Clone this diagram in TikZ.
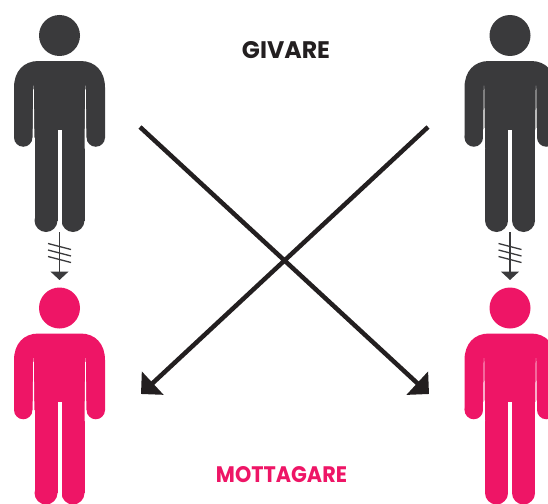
\documentclass[tikz,border=0pt]{standalone}
\usepackage{fontspec}
\newfontfamily\popfont{Poppins}
\usetikzlibrary{arrows.meta}
\definecolor{givgrey}{HTML}{3A3A3C}
\definecolor{motpink}{HTML}{EE1566}
\definecolor{arrowblack}{HTML}{231F20}
\tikzset{
  bigarrow/.style={draw=arrowblack, line width=4.5pt, -{Triangle[length=16pt,width=31pt]}},
  smallarrow/.style={draw=givgrey, line width=1.4pt, -{Triangle[length=8.5pt,width=18pt]}},
  hashmark/.style={draw=givgrey, line width=1.3pt},
  label/.style={font=\popfont\bfseries, inner sep=0pt},
}
% person: name, cx, cy (head centre), colour
\newcommand\drawperson[4]{%
  \begin{scope}[shift={(#2,#3)}]
    \fill[#4] (0,0) circle (20.5);
    \fill[#4] (-45.5,102) -- (-45.5,52) .. controls (-45.5,36) and (-36,25.5) .. (-21,25.5)
      -- (21,25.5) .. controls (36,25.5) and (45.5,36) .. (45.5,52) -- (45.5,102) -- cycle;
    \fill[#4] (-36.25,102) circle (9.25);
    \fill[#4] (36.25,102) circle (9.25);
    \fill[#4] (-25,100) rectangle (-2,185);
    \fill[#4] (2,100) rectangle (25,185);
    \fill[#4] (-13.5,185) circle (11.5);
    \fill[#4] (13.5,185) circle (11.5);
    \fill[white] (-26.2,50) -- (-25.8,50) -- (-25,113) -- (-27,113) -- cycle;
    \fill[white] (26.2,50) -- (25.8,50) -- (25,113) -- (27,113) -- cycle;
    \fill[white] (-2,94) rectangle (2,200);
    \coordinate (#1-feet) at (0,196.5);
    \coordinate (#1-top) at (0,-28);
  \end{scope}}
\begin{document}
\begin{tikzpicture}[x=1pt,y=-1pt]
  \useasboundingbox (0,0) rectangle (548,503);
  \clip (0,0) rectangle (548,503);
  \drawperson{gl}{59.5}{35.5}{givgrey}
  \drawperson{gr}{510}{35.5}{givgrey}
  \drawperson{ml}{59.5}{308}{motpink}
  \drawperson{mr}{510}{308}{motpink}

  \node[label, text=arrowblack] (givare) at (286,50.5) {\resizebox{88pt}{17pt}{GIVARE}};
  \node[label, text=motpink] (mottagare) at (281.5,475) {\resizebox{131pt}{16pt}{MOTTAGARE}};

  \coordinate (gl-out) at (140,127);
  \coordinate (gr-out) at (428,127);
  \coordinate (mr-in) at (429,394);
  \coordinate (ml-in) at (141,394);

  \draw[bigarrow] (gl-out) -- (mr-in);
  \draw[bigarrow] (gr-out) -- (ml-in);

  \draw[smallarrow] (gl-feet) -- (ml-top);
  \draw[smallarrow] (gr-feet) -- (mr-top);
  \foreach \p in {gl,gr}{
    \foreach \k in {0,6.5,13}{
      \draw[hashmark] (\p-feet) ++(-11.5,11.5+\k) -- ++(23,6);
    }
  }
\end{tikzpicture}
\end{document}
